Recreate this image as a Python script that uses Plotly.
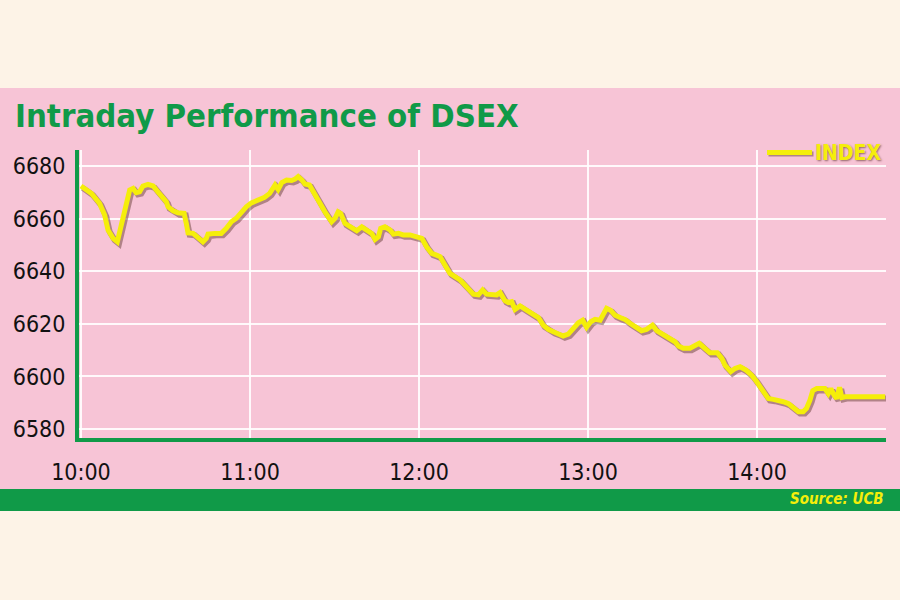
import plotly.graph_objects as go

# ---- data (minutes after 10:00, DSEX index value) ----
minutes = [0, 3.7, 6.6, 8.4, 9.6, 11.4, 12.9, 14.3, 16.1, 17.3, 18.5, 19.6, 20.8, 22.0, 23.8,
           25.6, 27.3, 29.1, 30.3, 30.9, 32.7, 34.4, 36.6, 37.4, 38.0, 39.8, 41.5, 43.3, 44.5,
           45.1, 47.5, 49.8, 51.6, 53.4, 55.1, 56.9, 58.7, 60.5, 62.8, 65.2, 67.0, 68.9, 70.0,
           71.3, 73.0, 74.8, 76.0, 77.1, 78.4, 79.5, 81.1, 82.5, 84.2, 86.6, 89.0, 90.2, 91.3,
           92.2, 93.7, 95.5, 97.9, 99.7, 101.4, 103.2, 104.4, 105.6, 106.4, 107.9, 109.7, 110.9,
           112.7, 114.4, 116.8, 119.2, 121.0, 122.7, 124.5, 126.0, 127.5, 129.2, 131.0, 134.6,
           136.9, 139.3, 141.1, 142.6, 144.0, 145.8, 147.6, 148.8, 150.5, 151.7, 152.9, 154.1,
           155.9, 158.2, 160.6, 162.4, 164.1, 165.9, 167.7, 169.5, 171.2, 173.0, 174.8, 176.6,
           178.1, 179.5, 181.0, 182.5, 184.3, 185.4, 186.6, 188.0, 189.6, 191.4, 193.1, 194.9,
           197.3, 199.0, 200.8, 202.9, 204.4, 206.2, 207.9, 209.7, 210.9, 212.1, 213.8, 216.2,
           218.0, 219.5, 221.5, 223.3, 225.9, 227.5, 228.6, 230.7, 232.2, 234.0, 236.1, 238.1,
           239.9, 241.7, 244.0, 245.8, 247.6, 249.3, 251.1, 252.9, 254.7, 256.4, 257.6, 258.8,
           259.8, 261.2, 263.0, 264.1, 265.3, 266.2, 267.4, 268.3, 269.3, 270.1, 271.3, 285.5]
index_values = [6672.4, 6669.6, 6665.8, 6661.4, 6655.7, 6652.5, 6651.2, 6656.9, 6665.8, 6670.9,
                6671.5, 6669.9, 6670.2, 6672.4, 6673.0, 6672.4, 6670.2, 6667.7, 6666.4, 6664.5,
                6663.0, 6662.2, 6662.0, 6658.2, 6654.6, 6654.4, 6652.9, 6651.2, 6652.5, 6654.1,
                6654.4, 6654.4, 6656.3, 6658.8, 6660.1, 6662.6, 6664.5, 6666.0, 6666.8, 6668.1,
                6669.6, 6672.8, 6671.1, 6673.7, 6674.7, 6674.5, 6675.0, 6676.0, 6674.7, 6673.2,
                6672.8, 6670.2, 6666.4, 6662.6, 6658.8, 6660.1, 6662.6, 6662.0, 6658.2, 6656.9,
                6655.4, 6656.9, 6655.7, 6654.4, 6652.1, 6653.1, 6656.3, 6656.9, 6655.7, 6654.1,
                6654.4, 6653.8, 6653.8, 6653.1, 6652.5, 6649.3, 6646.8, 6646.2, 6645.5, 6642.4,
                6639.2, 6636.7, 6634.1, 6631.3, 6631.0, 6632.9, 6631.3, 6631.0, 6631.0, 6631.9,
                6628.8, 6628.1, 6628.4, 6625.5, 6626.8, 6625.2, 6623.7, 6622.4, 6619.5, 6617.9,
                6617.0, 6616.3, 6615.4, 6616.1, 6618.3, 6620.4, 6621.4, 6618.7, 6620.8, 6621.7,
                6621.4, 6623.3, 6625.9, 6625.2, 6623.3, 6622.4, 6621.7, 6620.2, 6618.3, 6617.4,
                6617.9, 6619.5, 6617.4, 6616.3, 6615.1, 6614.4, 6613.2, 6611.6, 6610.7, 6610.7,
                6611.6, 6612.6, 6610.7, 6609.0, 6609.0, 6606.9, 6604.3, 6601.8, 6603.0, 6603.7,
                6602.4, 6600.5, 6598.0, 6595.4, 6591.6, 6591.3, 6591.0, 6590.4, 6589.7, 6587.9,
                6586.6, 6586.6, 6587.9, 6591.0, 6594.6, 6595.4, 6595.2, 6595.4, 6593.5, 6595.4,
                6592.9, 6591.6, 6595.9, 6592.0, 6592.3, 6592.3]
x_tick_vals = [0, 60, 120, 180, 240]
x_tick_text = ["10:00", "11:00", "12:00", "13:00", "14:00"]
y_tick_vals = [6580, 6600, 6620, 6640, 6660, 6680]
series_name = "INDEX"
title_text = "Intraday Performance of DSEX"
source_text = "Source: UCB"

# ---- styles ----
W, H = 900, 600
CREAM = "#FDF3E7"
PINK = "#F7C4D6"
GREEN = "#109A48"
YELLOW = "#F5EE0A"
FONT = "'Liberation Sans Narrow', 'DejaVu Sans Condensed', 'Roboto Condensed', Roboto, sans-serif"


def px_x(x):
    return x / W


def px_y(y):
    return 1 - y / H


fig = go.Figure()

# shadow of the line
fig.add_trace(go.Scatter(
    x=[m + 0.6 for m in minutes], y=[v - 0.7 for v in index_values],
    mode="lines", line=dict(color="rgba(90,50,40,0.45)", width=6),
    hoverinfo="skip", showlegend=False))
fig.add_trace(go.Scatter(
    x=minutes, y=index_values, mode="lines", name=series_name,
    line=dict(color=YELLOW, width=5), showlegend=False))

shapes = [
    dict(type="rect", xref="paper", yref="paper", x0=0, x1=1, y0=px_y(489), y1=px_y(88),
         fillcolor=PINK, line_width=0, layer="below"),
    dict(type="rect", xref="paper", yref="paper", x0=0, x1=1, y0=px_y(511), y1=px_y(489),
         fillcolor=GREEN, line_width=0, layer="below"),
    # legend sample line (shadow + line)
    dict(type="line", xref="paper", yref="paper", x0=px_x(768.5), x1=px_x(813.5),
         y0=px_y(154), y1=px_y(154), line=dict(color="rgba(90,50,40,0.45)", width=5)),
    dict(type="line", xref="paper", yref="paper", x0=px_x(767), x1=px_x(812),
         y0=px_y(152.5), y1=px_y(152.5), line=dict(color=YELLOW, width=5)),
]

annotations = [
    dict(text="<b>" + title_text + "</b>", xref="paper", yref="paper",
         x=px_x(13), y=px_y(116), xanchor="left", yanchor="middle", showarrow=False,
         font=dict(family=FONT, size=32.7, color=GREEN)),
    dict(text="<b>" + series_name + "</b>", xref="paper", yref="paper",
         x=px_x(883), y=px_y(152.5), xanchor="right", yanchor="middle", showarrow=False,
         font=dict(family=FONT, size=21, color=YELLOW,
                   shadow="1px 1px 2px rgba(80,40,30,0.6)")),
    dict(text="<b><i>" + source_text + "</i></b>", xref="paper", yref="paper",
         x=px_x(886), y=px_y(499), xanchor="right", yanchor="middle", showarrow=False,
         font=dict(family=FONT, size=15, color=YELLOW)),
]

fig.update_layout(
    width=W, height=H, margin=dict(l=0, r=0, t=0, b=0, autoexpand=False),
    paper_bgcolor=CREAM, plot_bgcolor=PINK,
    shapes=shapes, annotations=annotations, showlegend=False,
    xaxis=dict(domain=[px_x(79), px_x(886)], range=[-0.7, 285.8], automargin=False,
               tickvals=x_tick_vals, ticktext=x_tick_text,
               showgrid=True, gridcolor="rgba(255,255,255,0.9)", gridwidth=1.5,
               zeroline=False, showline=True, linecolor=GREEN, linewidth=4,
               ticks="outside", ticklen=10, tickcolor="rgba(0,0,0,0)",
               tickfont=dict(family=FONT, size=23, color="#111111")),
    yaxis=dict(domain=[px_y(438), px_y(150)], range=[6576.6, 6686.1], automargin=False,
               tickvals=y_tick_vals,
               showgrid=True, gridcolor="rgba(255,255,255,0.9)", gridwidth=1.5,
               zeroline=False, showline=True, linecolor=GREEN, linewidth=4,
               ticks="outside", ticklen=5, tickcolor="rgba(0,0,0,0)",
               tickfont=dict(family=FONT, size=23, color="#111111")),
)

fig.write_html("out.html", config={"displayModeBar": False},
               post_script="document.body.style.margin='0px';")
